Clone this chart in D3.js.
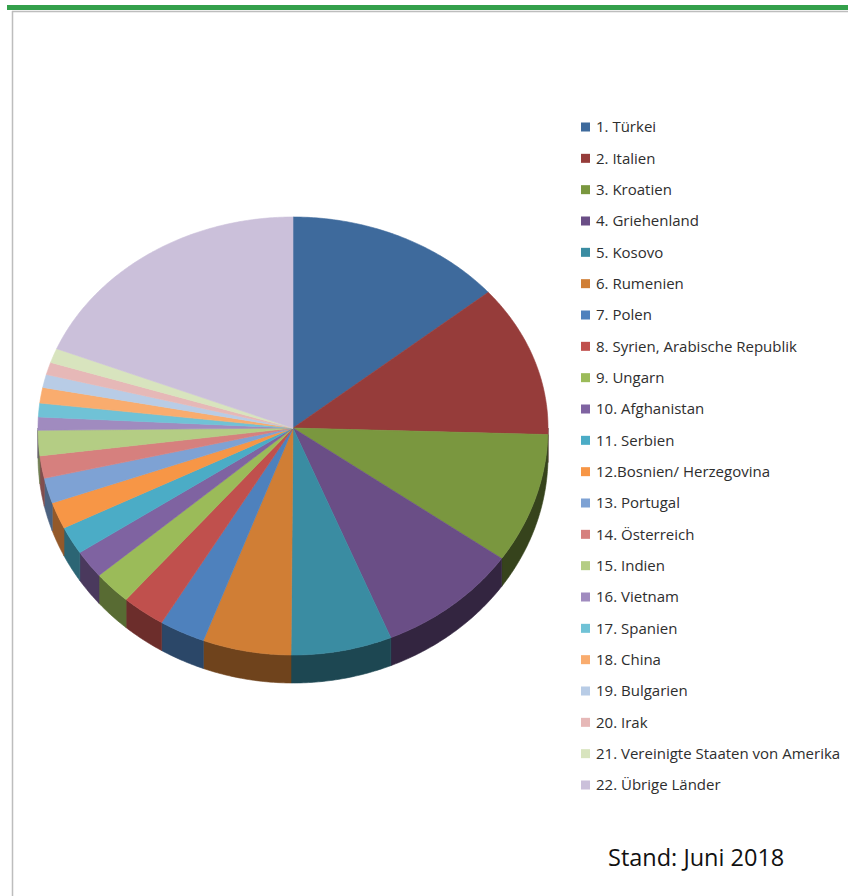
<!DOCTYPE html>
<html>
<head>
<meta charset="utf-8">
<script src="https://cdn.jsdelivr.net/npm/d3@7"></script>
<style>
  html, body { margin: 0; padding: 0; background: #fff; }
  svg { display: block; }
</style>
</head>
<body>
<svg id="chart" width="848" height="896"></svg>
<script>
const categories = [
  "1. Türkei", "2. Italien", "3. Kroatien", "4. Griehenland", "5. Kosovo",
  "6. Rumenien", "7. Polen", "8. Syrien, Arabische Republik", "9. Ungarn",
  "10. Afghanistan", "11. Serbien", "12.Bosnien/ Herzegovina", "13. Portugal",
  "14. Österreich", "15. Indien", "16. Vietnam", "17. Spanien", "18. China",
  "19. Bulgarien", "20. Irak", "21. Vereinigte Staaten von Amerika", "22. Übrige Länder"
];
const values = [13.9, 11.6, 9.3, 9.0, 6.4, 5.6, 2.9, 2.75, 2.4, 2.0, 2.0, 1.9, 1.8,
                1.6, 1.8, 1.0, 1.05, 1.2, 1.0, 0.95, 1.1, 18.9];
const colors = [
  "#3E6A9C", "#963C3A", "#7A973F", "#6A4E86", "#3A8CA2", "#D07E35", "#4E81BD",
  "#C0504D", "#9BBB59", "#7F63A1", "#4BACC6", "#F79646", "#7EA2D4", "#D6807E",
  "#B4CD84", "#A08BBF", "#70C2D6", "#F9AC6E", "#B8CCE6", "#E6B8B7", "#D8E4BE", "#CBC0DA"
];
const footnote = "Stand: Juni 2018";

const svg = d3.select("#chart");

// frame
svg.append("rect").attr("x", 7).attr("y", 5).attr("width", 841).attr("height", 5).attr("fill", "#34A04B");
svg.append("line").attr("x1", 12).attr("x2", 848).attr("y1", 11.5).attr("y2", 11.5).attr("stroke", "#BDBDBD").attr("stroke-width", 1.5);
svg.append("line").attr("x1", 12.5).attr("x2", 12.5).attr("y1", 11).attr("y2", 896).attr("stroke", "#BDBDBD").attr("stroke-width", 1.5);

// pie geometry
const cx = 293, cy = 428, rx = 255, ryTop = 211, ryBot = 227, depth = 28;
function rim(a, dy) {
  const c = Math.cos(a);
  return [cx + rx * Math.sin(a), cy - c * (c > 0 ? ryTop : ryBot) + (dy || 0)];
}
function arcPts(a0, a1, dy) {
  const n = Math.max(2, Math.ceil((a1 - a0) / 0.01));
  const pts = [];
  for (let i = 0; i <= n; i++) pts.push(rim(a0 + (a1 - a0) * i / n, dy));
  return pts;
}
const pie = d3.pie().sort(null).value(d => d)(values);
const line = d3.line();
const g = svg.append("g");

// sides (front half)
pie.forEach((p, i) => {
  const a0 = Math.max(p.startAngle, Math.PI / 2);
  const a1 = Math.min(p.endAngle, 3 * Math.PI / 2);
  if (a1 <= a0) return;
  const mid = (a0 + a1) / 2;
  const f = 0.42 + 0.2 * Math.max(0, Math.min(1, (mid - Math.PI / 2) / Math.PI));
  const c = d3.rgb(colors[i]);
  const side = d3.rgb(c.r * f, c.g * f, c.b * f);
  const top = arcPts(a0, a1, 0);
  const bot = arcPts(a0, a1, depth).reverse();
  g.append("path").attr("d", line(top.concat(bot)) + "Z").attr("fill", side)
    .attr("stroke", side).attr("stroke-width", 0.6);
});

// top faces
pie.forEach((p, i) => {
  const pts = [[cx, cy]].concat(arcPts(p.startAngle, p.endAngle, 0));
  g.append("path").attr("d", line(pts) + "Z").attr("fill", colors[i])
    .attr("stroke", colors[i]).attr("stroke-width", 0.6);
});

// legend
const legendY = d3.scaleLinear().domain([0, categories.length - 1]).range([127, 785]);
const leg = svg.append("g");
categories.forEach((name, i) => {
  const y = legendY(i);
  leg.append("rect").attr("x", 581).attr("y", y - 4.5).attr("width", 9).attr("height", 9).attr("fill", colors[i]);
  leg.append("text").attr("x", 596).attr("y", y).attr("dy", "0.36em")
    .attr("font-family", "'Open Sans', Lato, sans-serif").attr("font-size", 15)
    .attr("fill", "#2E2E2E").text(name);
});

svg.append("text").attr("x", 608).attr("y", 866)
  .attr("font-family", "'Open Sans', Lato, sans-serif").attr("font-size", 23.5)
  .attr("fill", "#111").text(footnote);
</script>
</body>
</html>
